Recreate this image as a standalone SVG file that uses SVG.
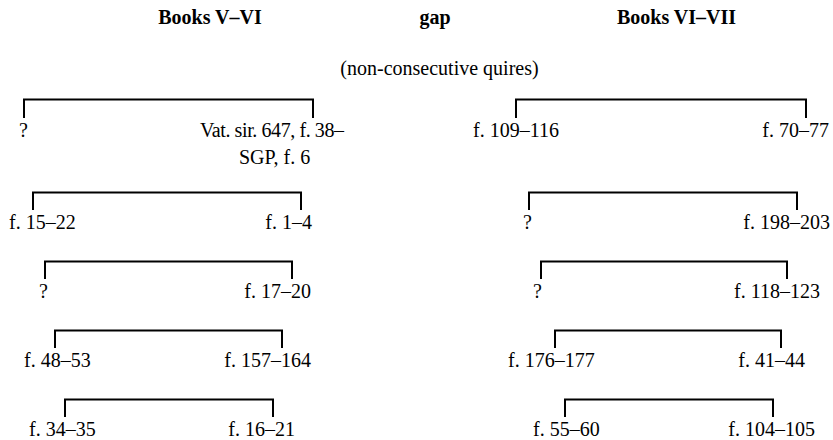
<svg xmlns="http://www.w3.org/2000/svg" width="833" height="440" viewBox="0 0 833 440">
<style>
text{font-family:"Liberation Serif","Times New Roman",serif;font-size:20px;fill:#000}
.b{font-weight:bold}
.m{text-anchor:middle}
.e{text-anchor:end}
.br{fill:none;stroke:#000;stroke-width:2}
</style>
<rect width="833" height="440" fill="#fff"/>
<g id="headers">
<text class="b m" x="210" y="24">Books V–VI</text>
<text class="b m" x="435" y="24">gap</text>
<text class="b m" x="676.5" y="24">Books VI–VII</text>
<text class="m" x="439.5" y="75">(non-consecutive quires)</text>
</g>
<g id="connectors">
<path class="br" d="M24 118V99.5H313V118"/>
<path class="br" d="M33 210V192.5H301V210"/>
<path class="br" d="M45 279V261.5H292V279"/>
<path class="br" d="M55 348V330.5H282V348"/>
<path class="br" d="M65 417V399.5H273V417"/>
<path class="br" d="M516 118V99.5H806V118"/>
<path class="br" d="M529 210V192.5H797V210"/>
<path class="br" d="M541 279V261.5H787V279"/>
<path class="br" d="M555 348V330.5H781V348"/>
<path class="br" d="M565 417V399.5H773V417"/>
</g>
<g id="L1"><text x="19" y="137">?</text><text x="200" y="137" textLength="144" lengthAdjust="spacing">Vat. sir. 647, f. 38–</text><text x="239" y="164">SGP, f. 6</text></g>
<g id="L2"><text x="9" y="229">f. 15–22</text><text class="e" x="312" y="229">f. 1–4</text></g>
<g id="L3"><text x="39" y="298">?</text><text class="e" x="311" y="298">f. 17–20</text></g>
<g id="L4"><text x="24" y="367">f. 48–53</text><text class="e" x="311" y="367">f. 157–164</text></g>
<g id="L5"><text x="29" y="436">f. 34–35</text><text class="e" x="295" y="436">f. 16–21</text></g>
<g id="R1"><text x="473" y="137">f. 109–116</text><text class="e" x="829" y="137">f. 70–77</text></g>
<g id="R2"><text x="523" y="229">?</text><text class="e" x="830" y="229">f. 198–203</text></g>
<g id="R3"><text x="533" y="298">?</text><text class="e" x="820" y="298">f. 118–123</text></g>
<g id="R4"><text x="508" y="367">f. 176–177</text><text class="e" x="805" y="367">f. 41–44</text></g>
<g id="R5"><text x="533" y="436">f. 55–60</text><text class="e" x="815" y="436">f. 104–105</text></g>
</svg>
